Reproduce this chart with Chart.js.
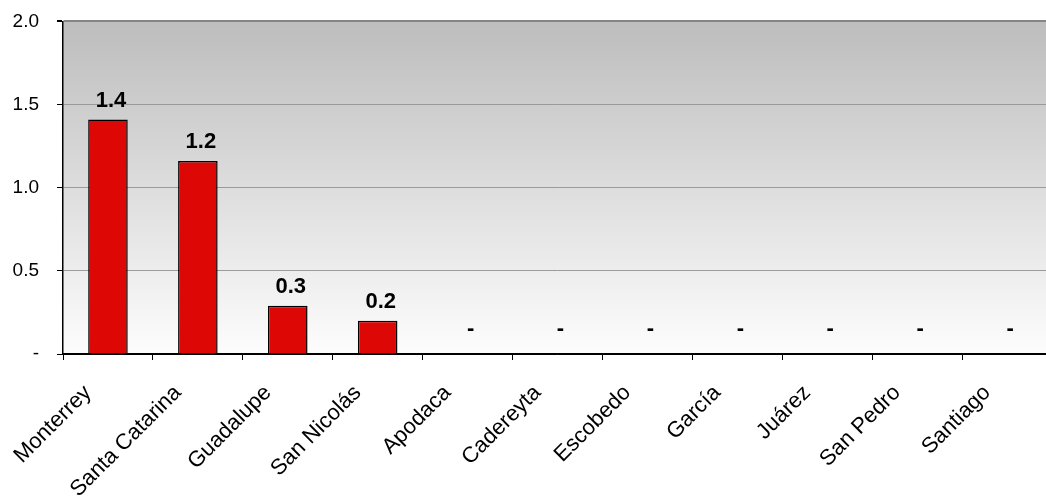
<!DOCTYPE html>
<html>
<head>
<meta charset="utf-8">
<script src="https://cdn.jsdelivr.net/npm/chart.js@4"></script>
<style>
  html, body { margin: 0; padding: 0; background: #fff; overflow: hidden; }
  .chart { position: relative; width: 1052px; height: 508px; margin-top: -8px; }
</style>
</head>
<body>
<div class="chart">
  <canvas id="municipiosChart"></canvas>
</div>
<script>
const categories = ['Monterrey', 'Santa Catarina', 'Guadalupe', 'San Nicolás', 'Apodaca', 'Cadereyta',
                    'Escobedo', 'García', 'Juárez', 'San Pedro', 'Santiago'];
const values = [1.41, 1.16, 0.29, 0.2, 0, 0, 0, 0, 0, 0, 0];
const yTicks = [0, 0.5, 1.0, 1.5, 2.0];

const fmt = v => v === 0 ? '-' : v.toFixed(1);

// gray-to-white fill behind the plot area
const plotBackground = {
    id: 'plotBackground',
    beforeDraw(chart) {
        const { ctx, chartArea: a } = chart;
        const g = ctx.createLinearGradient(0, a.top, 0, a.bottom);
        g.addColorStop(0, '#bdbdbd');
        g.addColorStop(1, '#fdfdfd');
        ctx.save();
        ctx.fillStyle = g;
        ctx.fillRect(a.left, a.top, a.right - a.left, a.bottom - a.top);
        ctx.restore();
    }
};

const valueLabels = {
    id: 'valueLabels',
    afterDatasetsDraw(chart) {
        const { ctx } = chart;
        const meta = chart.getDatasetMeta(0);
        ctx.save();
        ctx.font = 'bold 22px "Liberation Sans", Arial, sans-serif';
        ctx.fillStyle = '#000';
        ctx.textAlign = 'center';
        ctx.textBaseline = 'bottom';
        meta.data.forEach((bar, i) => {
            const v = values[i];
            ctx.fillText(fmt(v), bar.x + 3, v === 0 ? bar.y - 14 : bar.y - 8);
        });
        ctx.restore();
    }
};

const ctx = document.getElementById('municipiosChart').getContext('2d');
new Chart(ctx, {
    type: 'bar',
    data: {
        labels: categories,
        datasets: [{
            data: values,
            backgroundColor: '#dd0806',
            borderColor: '#000',
            borderWidth: 1.5,
            borderSkipped: 'bottom',
            categoryPercentage: 1,
            barPercentage: 0.44
        }]
    },
    options: {
        responsive: true,
        maintainAspectRatio: false,
        animation: false,
        layout: { padding: { top: 6, right: 0, left: 0, bottom: 0 } },
        plugins: { legend: { display: false }, tooltip: { enabled: false } },
        scales: {
            x: {
                border: { color: '#000', width: 1.5 },
                grid: { offset: true, drawOnChartArea: false, tickLength: 6, tickColor: '#000' },
                ticks: {
                    minRotation: 45, maxRotation: 45, autoSkip: false,
                    labelOffset: -20, padding: 20,
                    color: '#000',
                    font: { family: '"Liberation Sans", Arial, sans-serif', size: 22 }
                },
                afterFit(scale) { scale.height = 146; }
            },
            y: {
                min: 0, max: 2,
                border: { color: '#000', width: 1.5 },
                grid: {
                    color: c => c.tick.value === 2 ? '#858585' : (c.tick.value === 0 ? '#000' : '#9a9a9a'),
                    lineWidth: c => c.tick.value === 2 ? 2 : 1,
                    tickLength: 6, tickColor: '#000'
                },
                afterBuildTicks(scale) { scale.ticks = yTicks.map(v => ({ value: v })); },
                ticks: {
                    padding: 18,
                    color: '#000',
                    font: { family: '"Liberation Sans", Arial, sans-serif', size: 19 },
                    callback: v => fmt(v)
                },
                afterFit(scale) { scale.width = 63; }
            }
        }
    },
    plugins: [plotBackground, valueLabels]
});
</script>
</body>
</html>
